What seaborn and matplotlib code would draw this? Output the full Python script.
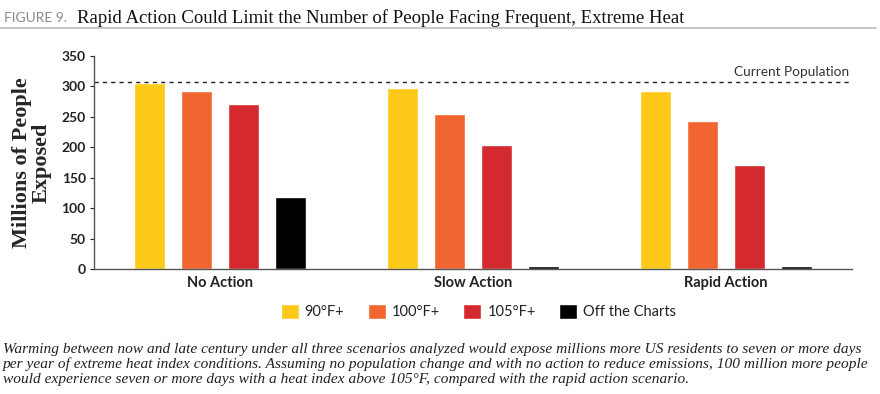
import pandas as pd
import numpy as np
import matplotlib
matplotlib.use('Agg')
import matplotlib.pyplot as plt
import seaborn as sns

# data
scenarios = ['No Action', 'Slow Action', 'Rapid Action']
levels = ['90°F+', '100°F+', '105°F+', 'Off the Charts']
v90 = [305, 298, 293]
v100 = [292, 254, 244]
v105 = [271, 204, 171]
voff = [118, 5, 5]
current_pop = 307
colors = ['#FDC918', '#F16531', '#D3292F', '#000000']

rows = []
for lev, vals in zip(levels, [v90, v100, v105, voff]):
    for sc, v in zip(scenarios, vals):
        rows.append({'scenario': sc, 'level': lev, 'value': v})
df = pd.DataFrame(rows)

sns.set_style('white')
plt.rcParams['font.family'] = ['Lato', 'DejaVu Sans']

fig = plt.figure(figsize=(8.8, 3.94), dpi=100)
ax = fig.add_axes([0.107, 0.317, 0.861, 0.541])

sns.barplot(data=df, x='scenario', y='value', hue='level', order=scenarios,
            hue_order=levels, palette=colors, width=0.744, gap=0.34,
            saturation=1, ax=ax, legend=True)

ax.axhline(current_pop, color='#222222', linestyle=(0, (3, 3)), linewidth=1)
ax.text(2.49, current_pop + 6, 'Current Population', ha='right', va='bottom',
        fontsize=9.8, color='#333333')

ax.set_ylim(0, 350)
ax.set_xlim(-0.5, 2.5)
ax.set_yticks(np.arange(0, 351, 50))
ax.tick_params(axis='y', labelsize=10, colors='#222222', length=3, width=0.8,
               left=True, pad=3)
ax.tick_params(axis='x', labelsize=10.5, length=0, pad=5)
for lab in ax.get_yticklabels() + ax.get_xticklabels():
    lab.set_fontweight('bold')
    lab.set_color('#222222')
ax.set_xlabel('')
ax.set_ylabel('Millions of People\nExposed', fontsize=16, fontweight='bold',
              family='Liberation Serif', linespacing=0.95, labelpad=7)
sns.despine(ax=ax)
for s in ['left', 'bottom']:
    ax.spines[s].set_color('#555555')
    ax.spines[s].set_linewidth(1)

leg = ax.legend(loc='upper center', bbox_to_anchor=(0.507, -0.1), ncol=4,
                frameon=False, fontsize=10.5, handlelength=1.25, handleheight=1.25,
                handletextpad=0.4, columnspacing=1.6)
for t in leg.get_texts():
    t.set_color('#222222')

# header
fig.text(0.005, 0.955, 'FIGURE 9.', fontsize=10, color='#8a8a8a', va='center',
         family='Lato')
fig.text(0.088, 0.955, 'Rapid Action Could Limit the Number of People Facing Frequent, Extreme Heat',
         fontsize=13.5, color='#111111', va='center', family='Liberation Serif')
fig.add_artist(plt.Line2D([0.0, 0.995], [0.928, 0.928], color='#bdbdbd',
                          linewidth=1.2, transform=fig.transFigure))

caption = ('Warming between now and late century under all three scenarios analyzed would expose millions more US residents to seven or more days\n'
           'per year of extreme heat index conditions. Assuming no population change and with no action to reduce emissions, 100 million more people\n'
           'would experience seven or more days with a heat index above 105°F, compared with the rapid action scenario.')
fig.text(0.003, 0.13, caption, fontsize=11.1, style='italic', va='top',
         family='Liberation Serif', color='#222222', linespacing=1.17)

fig.savefig('out.png', dpi=100)
